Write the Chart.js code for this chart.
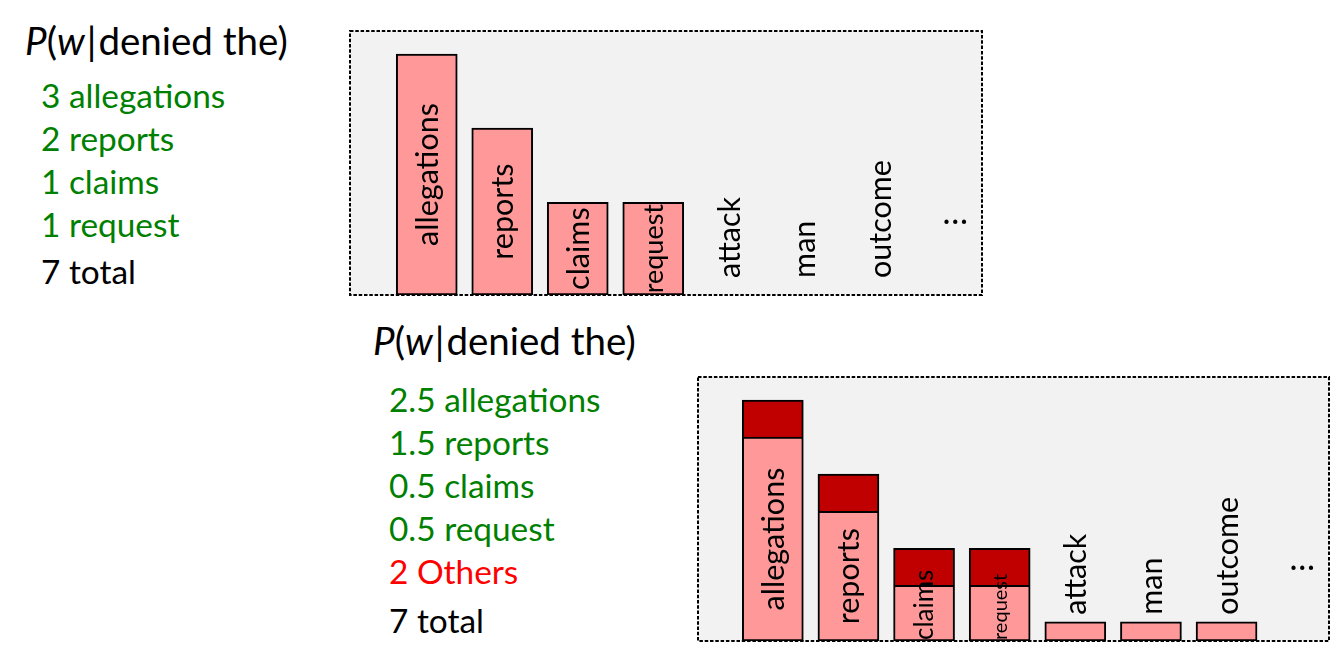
<!DOCTYPE html>
<html>
<head>
<meta charset="utf-8">
<script src="https://cdn.jsdelivr.net/npm/chart.js@4.4.0/dist/chart.umd.min.js"></script>
<style>
  html, body { margin: 0; padding: 0; background: #fff; width: 1342px; height: 668px; overflow: hidden; }
  #deco { position: absolute; left: 0; top: 0; }
  .cv { position: absolute; }
</style>
</head>
<body>
<svg id="deco" width="1342" height="668" xmlns="http://www.w3.org/2000/svg"></svg>
<canvas id="topChart" class="cv" width="643" height="264" style="left:350px;top:31px;width:643px;height:264px"></canvas>
<canvas id="bottomChart" class="cv" width="642" height="264" style="left:698px;top:377px;width:642px;height:264px"></canvas>
<script>
// ---------- data ----------
const categories = ['allegations', 'reports', 'claims', 'request', 'attack', 'man', 'outcome', '…'];
const countsObserved = [3, 2, 1, 1, 0, 0, 0, null];              // top chart
const countsKept = [2.5, 1.5, 0.5, 0.5, 0.01, 0.01, 0.01, null]; // bottom chart, light part
const countsDiscounted = [0.5, 0.5, 0.5, 0.5, 0, 0, 0, null];    // bottom chart, dark part
const observedLines = ['3 allegations', '2 reports', '1 claims', '1 request'];
const keptLines = ['2.5 allegations', '1.5 reports', '0.5 claims', '0.5 request'];
const othersLines = ['2 Others'];
const totalLines = ['7 total'];
const contextWords = ['denied the'];

// ---------- decorations (boxes + side text) ----------
const NS = 'http://www.w3.org/2000/svg';
const svg = document.getElementById('deco');
function el(tag, attrs, parent) {
  const e = document.createElementNS(NS, tag);
  for (const k in attrs) e.setAttribute(k, attrs[k]);
  (parent || svg).appendChild(e);
  return e;
}
function box(x, y, w, h) {
  el('rect', { x, y, width: w, height: h, fill: '#f2f2f2', stroke: '#000', 'stroke-width': 2, 'stroke-dasharray': '3.5 1.8' });
}
box(350, 31, 632, 264);
box(698, 377, 631, 264);

const FONT = 'Lato, Carlito, "Open Sans", sans-serif';
function title(x, y) {
  const t = el('text', { x, y, 'font-family': FONT, 'font-size': 38.5, fill: '#000' });
  const a = el('tspan', { 'font-style': 'italic' }, t); a.textContent = 'P';
  const b = el('tspan', {}, t); b.textContent = '(';
  const c = el('tspan', { 'font-style': 'italic' }, t); c.textContent = 'w';
  const d = el('tspan', { dx: 2 }, t); d.textContent = '|';
  const e = el('tspan', { dx: 2 }, t); e.textContent = contextWords[0] + ')';
}
function line(x, y, str, color) {
  const t = el('text', { x, y, 'font-family': FONT, 'font-size': 33.4, fill: color });
  t.textContent = str;
}
title(25, 55);
const topYs = [108, 151, 194, 237];
observedLines.forEach((s, i) => line(41, topYs[i], s, '#008000'));
line(41, 284, totalLines[0], '#000');

title(373, 355);
const botYs = [412, 455, 498, 541];
keptLines.forEach((s, i) => line(389, botYs[i], s, '#008000'));
line(389, 584, othersLines[0], '#ff0000');
line(389, 633, totalLines[0], '#000');

// ---------- word labels plugin ----------
const barWords = {
  id: 'barWords',
  afterDatasetsDraw(chart, args, o) {
    const { ctx, scales: { x, y } } = chart;
    const ds0 = chart.data.datasets[0].data;
    const meta0 = chart.getDatasetMeta(0);
    const p0 = y.getPixelForValue(0);
    categories.forEach((word, i) => {
      const cx = x.getPixelForValue(i);
      const v = ds0[i];
      const size = o.sizes[i];
      ctx.save();
      ctx.fillStyle = '#000';
      ctx.font = size + 'px ' + FONT;
      if (v === null) {
        ctx.textAlign = 'center';
        ctx.textBaseline = 'alphabetic';
        ctx.fillText(word, cx, p0 - 52);
      } else {
        let ty, align;
        if (v >= 0.5) {
          const bar = meta0.data[i];
          const w = ctx.measureText(word).width;
          ty = Math.min((bar.y + bar.base) / 2, bar.base - w / 2 - 1);
          align = 'center';
        } else {
          let top = p0;
          chart.data.datasets.forEach((d, k) => {
            const e = chart.getDatasetMeta(k).data[i];
            if (d.data[i] > 0 && e) top = Math.min(top, e.y);
          });
          ty = top - o.gap;
          align = 'left';
        }
        ctx.translate(cx + size * 0.36, ty);
        ctx.rotate(-Math.PI / 2);
        ctx.textAlign = align;
        ctx.textBaseline = 'alphabetic';
        ctx.fillText(word, 0, 0);
      }
      ctx.restore();
    });
  }
};

const PINK = '#ff9999', DARK = '#c00000';
const visible = (col) => (c) => (c.raw > 0 ? col : 'rgba(0,0,0,0)');

function baseOptions(padLeft, sizes, gap) {
  return {
    responsive: false,
    animation: false,
    events: [],
    layout: { padding: { left: padLeft, right: 0, top: 0, bottom: 0 } },
    scales: {
      x: { type: 'category', display: false, offset: true, stacked: true },
      y: { display: false, min: -0.25, max: 3.31, stacked: true }
    },
    plugins: {
      legend: { display: false },
      tooltip: { enabled: false },
      barWords: { sizes, gap }
    }
  };
}

new Chart(document.getElementById('topChart'), {
  type: 'bar',
  data: {
    labels: categories,
    datasets: [{
      data: countsObserved,
      base: -0.25,
      backgroundColor: visible(PINK),
      borderColor: visible('#000'),
      borderWidth: 2,
      borderSkipped: false,
      barThickness: 61
    }]
  },
  options: baseOptions(39, [30.5, 30.5, 30.5, 27, 30.5, 30.5, 30.5, 34], -1.5),
  plugins: [barWords]
});

new Chart(document.getElementById('bottomChart'), {
  type: 'bar',
  data: {
    labels: categories,
    datasets: [{
      data: countsKept,
      base: -0.25,
      backgroundColor: visible(PINK),
      borderColor: visible('#000'),
      borderWidth: 2,
      borderSkipped: false,
      barThickness: 61
    }, {
      data: countsDiscounted,
      backgroundColor: visible(DARK),
      borderColor: visible('#000'),
      borderWidth: 2,
      borderSkipped: 'start',
      barThickness: 61
    }]
  },
  options: baseOptions(37, [30.5, 30.5, 26, 20, 30.5, 30.5, 30.5, 34], 7),
  plugins: [barWords]
});
</script>
</body>
</html>
